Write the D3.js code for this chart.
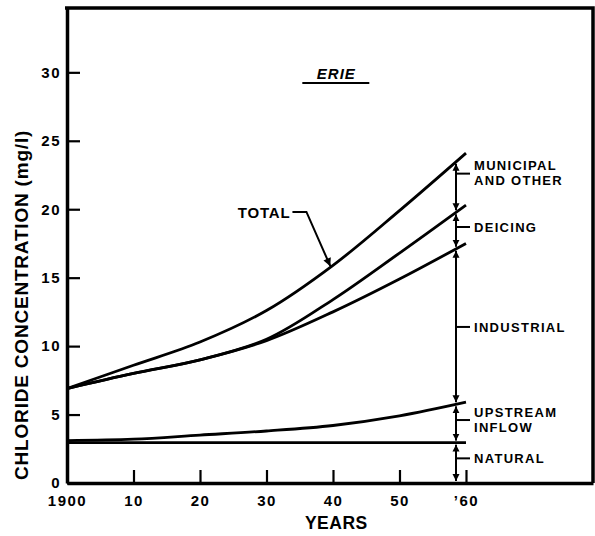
<!DOCTYPE html>
<html>
<head>
<meta charset="utf-8">
<script src="https://cdn.jsdelivr.net/npm/d3@7"></script>
<style>
  html, body { margin: 0; padding: 0; background: #fff; }
  svg { display: block; }
  text { font-family: "Liberation Sans", Arial, sans-serif; font-weight: bold; fill: #000; }
</style>
</head>
<body>
<svg id="chart" width="595" height="536"></svg>
<script>
// ---- data ----
const years      = [1900, 1910, 1920, 1930, 1940, 1950, 1960];
const total      = [6.9, 8.6, 10.3, 12.6, 15.9, 19.9, 24.1];
const deicing    = [6.9, 8.0, 9.0, 10.5, 13.4, 16.8, 20.3];
const industrial = [6.9, 8.0, 9.0, 10.4, 12.5, 14.9, 17.5];
const upstream   = [3.1, 3.2, 3.5, 3.8, 4.2, 4.9, 5.9];
const natural    = [2.95, 2.95, 2.95, 2.95, 2.95, 2.95, 2.95];

const xTicks = [1900, 1910, 1920, 1930, 1940, 1950, 1960];
const xTickLabels = ["1900", "10", "20", "30", "40", "50", "\u201960"];
const yTicks = [0, 5, 10, 15, 20, 25, 30];

const measureYear = 1958.5;   // year of the vertical breakdown bar
const bandNames = [["MUNICIPAL", "AND OTHER"], ["DEICING"], ["INDUSTRIAL"], ["UPSTREAM", "INFLOW"], ["NATURAL"]];
const bandLabelValues = [22.6, 18.7, 11.4, 4.6, 1.8];
const xDomain = [1900, 1979.1];
const yDomain = [0, 34.7];

(function () {
// ---- layout ----
const svg = d3.select("#chart");
const mLeft = 67, mRight = 593, mTop = 8, mBottom = 483;
const x = d3.scaleLinear().domain(xDomain).range([mLeft, mRight]);
const y = d3.scaleLinear().domain(yDomain).range([mBottom, mTop]);

// frame (top and right)
svg.append("path")
  .attr("d", `M${mLeft - 2},${mTop}H${mRight}V${mBottom}`)
  .attr("fill", "none").attr("stroke", "#000").attr("stroke-width", 3.5);

// x axis
const xAxis = d3.axisBottom(x)
  .tickValues(xTicks)
  .tickFormat((d, i) => xTickLabels[i])
  .tickSizeInner(-13).tickSizeOuter(0).tickPadding(12);
const gx = svg.append("g").attr("transform", `translate(0,${mBottom})`).call(xAxis);
gx.select(".domain").attr("stroke-width", 3.5);
gx.selectAll(".tick line").attr("stroke-width", 2.2);
gx.selectAll(".tick text").attr("font-size", 15).attr("letter-spacing", 1.5)
  .attr("font-family", "Liberation Sans, Arial, sans-serif").attr("font-weight", "bold");

// y axis
const yAxis = d3.axisLeft(y)
  .tickValues(yTicks)
  .tickSizeInner(-13).tickSizeOuter(0).tickPadding(6);
const gy = svg.append("g").attr("transform", `translate(${mLeft},0)`).call(yAxis);
gy.select(".domain").attr("stroke-width", 3.5);
gy.selectAll(".tick line").attr("stroke-width", 2.2);
gy.selectAll(".tick text").attr("font-size", 15).attr("letter-spacing", 1.5)
  .attr("font-family", "Liberation Sans, Arial, sans-serif").attr("font-weight", "bold");

// axis titles
svg.append("text")
  .attr("transform", `translate(21,${(y(0) + y(25)) / 2 - 7}) rotate(-90)`)
  .attr("text-anchor", "middle").attr("dominant-baseline", "central")
  .attr("font-size", 19).attr("letter-spacing", 0.8)
  .text("CHLORIDE CONCENTRATION (mg/l)");
svg.append("text")
  .attr("x", x(1940.5)).attr("y", 529)
  .attr("text-anchor", "middle").attr("font-size", 17.5).attr("letter-spacing", 0.5)
  .text("YEARS");

// title
const erieX = x(1940.5);
svg.append("text")
  .attr("x", erieX).attr("y", 79)
  .attr("text-anchor", "middle").attr("font-size", 15).attr("font-style", "italic")
  .attr("letter-spacing", 1)
  .text("ERIE");
svg.append("line")
  .attr("x1", erieX - 34).attr("x2", erieX + 33).attr("y1", 83).attr("y2", 83)
  .attr("stroke", "#000").attr("stroke-width", 2);

// curves
const line = d3.line()
  .x((d, i) => x(years[i]))
  .y(d => y(d))
  .curve(d3.curveCatmullRom.alpha(0.5));
[natural, upstream, industrial, deicing, total].forEach(series => {
  svg.append("path")
    .attr("d", line(series))
    .attr("fill", "none").attr("stroke", "#000")
    .attr("stroke-width", 2.8).attr("stroke-linecap", "butt");
});

// values at the measurement year (linear between neighbouring points)
function at(series, yr) {
  const i = d3.bisectRight(years, yr) - 1;
  const j = Math.min(i + 1, years.length - 1);
  if (i === j) return series[i];
  const t = (yr - years[i]) / (years[j] - years[i]);
  return series[i] + t * (series[j] - series[i]);
}
const bounds = [at(total, measureYear), at(deicing, measureYear), at(industrial, measureYear),
                at(upstream, measureYear), at(natural, measureYear), 0];

// arrow markers
const defs = svg.append("defs");
defs.append("marker")
  .attr("id", "arr").attr("viewBox", "0 0 10 10")
  .attr("refX", 10).attr("refY", 5)
  .attr("markerWidth", 7).attr("markerHeight", 8)
  .attr("markerUnits", "userSpaceOnUse")
  .attr("orient", "auto-start-reverse")
  .append("path").attr("d", "M0,0L10,5L0,10Z").attr("fill", "#000");

const mx = x(measureYear);
for (let k = 0; k < bounds.length - 1; k++) {
  svg.append("line")
    .attr("x1", mx).attr("x2", mx)
    .attr("y1", y(bounds[k]) + 2).attr("y2", y(bounds[k + 1]) - 2)
    .attr("stroke", "#000").attr("stroke-width", 2)
    .attr("marker-start", "url(#arr)").attr("marker-end", "url(#arr)");
}

// band labels
bandNames.forEach((lines, k) => {
  const ly = y(bandLabelValues[k]);
  svg.append("line")
    .attr("x1", mx).attr("x2", mx + 14).attr("y1", ly).attr("y2", ly)
    .attr("stroke", "#000").attr("stroke-width", 2);
  const t = svg.append("text")
    .attr("x", mx + 18).attr("font-size", 13).attr("letter-spacing", 1.3);
  const n = lines.length;
  lines.forEach((s, j) => {
    t.append("tspan")
      .attr("x", mx + 18)
      .attr("y", ly + 5 + (j - (n - 1) / 2) * 15 - (n > 1 ? 1 : 0))
      .text(s);
  });
});

// TOTAL annotation with leader arrow
const tipYear = 1939.6;
const tipX = x(tipYear), tipY = y(at(total, tipYear)) - 1;
const lblX = x(1933.6), lblY = y(19.8);
svg.append("text")
  .attr("x", lblX).attr("y", lblY + 6)
  .attr("text-anchor", "end").attr("font-size", 15).attr("letter-spacing", 0.8)
  .text("TOTAL");
defs.append("marker")
  .attr("id", "arr2").attr("viewBox", "0 0 10 10")
  .attr("refX", 10).attr("refY", 5)
  .attr("markerWidth", 14).attr("markerHeight", 8)
  .attr("markerUnits", "userSpaceOnUse")
  .attr("orient", "auto")
  .append("path").attr("d", "M0,0L10,5L0,10Z").attr("fill", "#000");
svg.append("path")
  .attr("d", `M${lblX + 2},${lblY}H${lblX + 16}L${tipX},${tipY}`)
  .attr("fill", "none").attr("stroke", "#000").attr("stroke-width", 2)
  .attr("marker-end", "url(#arr2)");
})();
</script>
</body>
</html>
